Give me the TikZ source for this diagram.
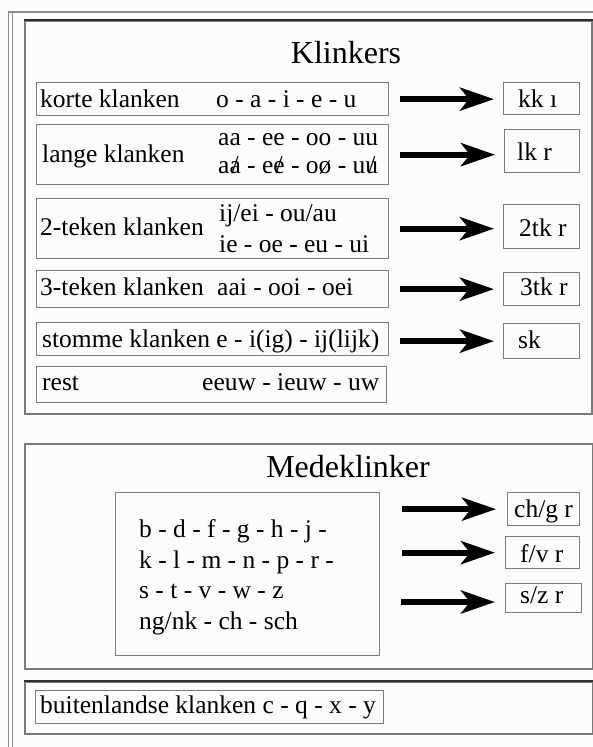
\documentclass[tikz,border=0pt]{standalone}
\usepackage{fontspec}
\setmainfont{Liberation Serif}
\usetikzlibrary{arrows.meta}
\definecolor{paper}{HTML}{FBFCFB}
\definecolor{frameline}{HTML}{8C8C8C}
\definecolor{edge}{HTML}{7A7A7A}
\definecolor{darkedge}{HTML}{303030}
% a letter with a slash struck through it
\newcommand{\crossed}[1]{\ooalign{#1\cr\hidewidth/\hidewidth\cr}}

\begin{document}
\begin{tikzpicture}[x=1pt,y=-1pt,
  txt/.style={anchor=base west, inner sep=0pt, font=\fontsize{25.5}{28}\selectfont},
  heading/.style={anchor=base, inner sep=0pt, font=\fontsize{32}{36}\selectfont},
  box/.style={draw=edge, line width=1.3pt, anchor=north west, inner sep=0pt, fill=none},
  panel/.style={draw=edge, line width=2pt, anchor=north west, inner sep=0pt},
  bigarrow/.style={line width=6pt, -{Stealth[length=34pt,width=23pt,inset=9pt]}},
]
\useasboundingbox (0,0) rectangle (593,747);
\fill[paper] (0,0) rectangle (593,747);

% outer frame: top rule and double left rule
\draw[frameline, line width=1.5pt] (8,12) -- (593,12);
\draw[frameline, line width=1.3pt] (8.5,12) -- (8.5,747);
\draw[frameline, line width=1.3pt] (12.5,12) -- (12.5,747);

% ---------------- Klinkers ----------------
\node[panel, minimum width=567pt, minimum height=393pt] (K) at (24,20) {};
\draw[darkedge, line width=2pt] (K.north west) -- (K.north east);
\node[heading] (Kt) at (346,63) {Klinkers};

\node[box, minimum width=352pt, minimum height=33pt] (r1) at (36,82) {};
\node[box, minimum width=352pt, minimum height=60pt] (r2) at (36,124) {};
\node[box, minimum width=352pt, minimum height=60pt] (r3) at (36,198) {};
\node[box, minimum width=352pt, minimum height=37pt] (r4) at (36,270) {};
\node[box, minimum width=352pt, minimum height=33pt] (r5) at (36,322) {};
\node[box, minimum width=350pt, minimum height=36pt] (r6) at (36,366) {};

\node[txt] (t1a) at (40,107) {korte klanken};
\node[txt] (t1b) at (216,107) {o - a - i - e - u};
\node[txt] (t2a) at (42,162) {lange klanken};
\node[txt] (t2b) at (218,145) {aa - ee - oo - uu};
\node[txt] (t2c) at (218,173) {a\crossed{a} - e\crossed{e} - oø - u\crossed{u}};
\node[txt] (t3a) at (40,235) {2-teken klanken};
\node[txt] (t3b) at (219,221) {ij/ei - ou/au};
\node[txt] (t3c) at (219,252) {ie - oe - eu - ui};
\node[txt] (t4a) at (40,295) {3-teken klanken};
\node[txt] (t4b) at (217,295) {aai - ooi - oei};
\node[txt] (t5a) at (42,347) {stomme klanken e - i(ig) - ij(lijk)};
\node[txt] (t6a) at (42,390) {rest};
\node[txt] (t6b) at (202,390) {eeuw - ieuw - uw};

\node[box, minimum width=76pt, minimum height=32pt] (kk) at (503,82) {};
\node[box, minimum width=75pt, minimum height=43pt] (lk) at (504,129) {};
\node[box, minimum width=76pt, minimum height=44pt] (tk2) at (503,204) {};
\node[box, minimum width=76pt, minimum height=33pt] (tk3) at (503,272) {};
\node[box, minimum width=76pt, minimum height=35pt] (sk) at (503,323) {};

\node[txt] at (518,107) {kk ı};
\node[txt] at (517,160) {lk r};
\node[txt] at (519,236) {2tk r};
\node[txt] at (520,295) {3tk r};
\node[txt] at (518,348) {sk};

\draw[bigarrow, shorten <=11pt, shorten >=9pt] (r1.east) -- (r1.east -| kk.west);
\draw[bigarrow, shorten <=11pt, shorten >=9pt] (r2.east) -- (r2.east -| lk.west);
\draw[bigarrow, shorten <=11pt, shorten >=9pt] (r3.east) -- (r3.east -| tk2.west);
\draw[bigarrow, shorten <=11pt, shorten >=9pt] (r4.east) -- (r4.east -| tk3.west);
\draw[bigarrow, shorten <=11pt, shorten >=9pt] (r5.east |- sk.west) -- (sk.west);

% ---------------- Medeklinker ----------------
\node[panel, minimum width=568pt, minimum height=225pt] (M) at (24,443) {};
\node[heading] (Mt) at (348,477) {Medeklinker};

\node[box, minimum width=264pt, minimum height=163pt] (cons) at (115,492) {};
\node[txt] at (139,537) {b - d - f - g - h - j -};
\node[txt] at (139,568) {k - l - m - n - p - r -};
\node[txt] at (139,598) {s - t - v - w - z};
\node[txt] at (139,629) {ng/nk - ch - sch};

\node[box, minimum width=72pt, minimum height=33pt] (chg) at (507,492) {};
\node[box, minimum width=74pt, minimum height=32pt] (fv) at (505,536) {};
\node[box, minimum width=76pt, minimum height=29pt] (sz) at (505,583) {};
\node[txt] at (514,517) {ch/g r};
\node[txt] at (520,562) {f/v r};
\node[txt] at (520,603) {s/z r};

\coordinate (m1) at (cons.east |- chg.west);
\coordinate (m2) at (cons.east |- fv.west);
\coordinate (m3) at (379,602);
\draw[bigarrow, shorten <=22pt, shorten >=11pt] (m1) -- (chg.west);
\draw[bigarrow, shorten <=22pt, shorten >=10pt] (m2) -- (fv.west);
\draw[bigarrow, shorten <=22pt, shorten >=10pt] (m3) -- (m3 -| sz.west);

% ---------------- buitenlandse klanken ----------------
\node[panel, minimum width=568pt, minimum height=52pt] (B) at (24,681) {};
\draw[darkedge, line width=2pt] (B.north west) -- (B.north east) -- (B.south east);
\node[box, minimum width=348pt, minimum height=33pt] (bk) at (35,690) {};
\node[txt] at (40,713) {buitenlandse klanken c - q - x - y};
\end{tikzpicture}
\end{document}
